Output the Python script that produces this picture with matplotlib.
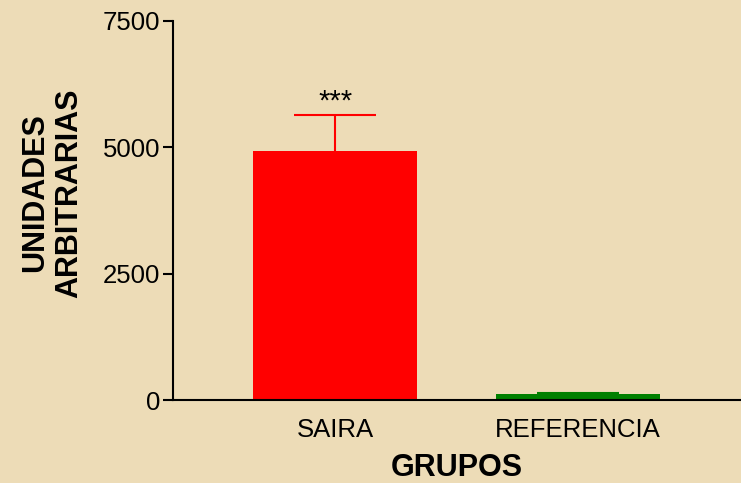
import matplotlib.pyplot as plt

plt.rcParams['font.family'] = ['Liberation Sans', 'DejaVu Sans']

grupos = ['SAIRA', 'REFERENCIA']
valores = [4930, 115]
errores = [710, 30]
colores = ['#ff0000', '#008000']
yticks = [0, 2500, 5000, 7500]

fig = plt.figure(figsize=(7.41, 4.83), dpi=100, facecolor='#eddcb7')
ax = fig.add_axes([173/741, 83/483, 568/741, 379/483])
ax.set_facecolor('none')

pos = list(range(len(grupos)))
ancho = 0.675
ax.bar(pos, valores, width=ancho, color=colores, zorder=2)
# error bar hacia arriba solamente
for p, v, e, c in zip(pos, valores, errores, colores):
    ax.vlines(p, v, v + e, color=c, lw=1.5, zorder=1)
    ax.hlines(v + e, p - ancho / 4, p + ancho / 4, color=c, lw=1.5, zorder=1)
ax.text(0, valores[0] + errores[0] - 20, '***', ha='center', va='bottom', fontsize=21)

ax.set_xlim(-0.667, 1.67)
ax.set_ylim(0, 7500)
ax.set_yticks(yticks)
ax.set_xticks(pos)
ax.set_xticklabels(grupos)
ax.tick_params(axis='y', length=7, width=1.5, pad=2, labelsize=18.5)
ax.tick_params(axis='x', length=0, pad=13, labelsize=18.5)
for s in ['top', 'right']:
    ax.spines[s].set_visible(False)
for s in ['left', 'bottom']:
    ax.spines[s].set_linewidth(1.5)

ax.set_xlabel('GRUPOS', fontsize=22, fontweight='bold', labelpad=8)
fig.text(52/741, 1 - 193/483, 'UNIDADES\nARBITRARIAS', rotation=90, ha='center',
         va='center', fontsize=22, fontweight='bold')

fig.savefig('out.png', dpi=100, facecolor=fig.get_facecolor())
